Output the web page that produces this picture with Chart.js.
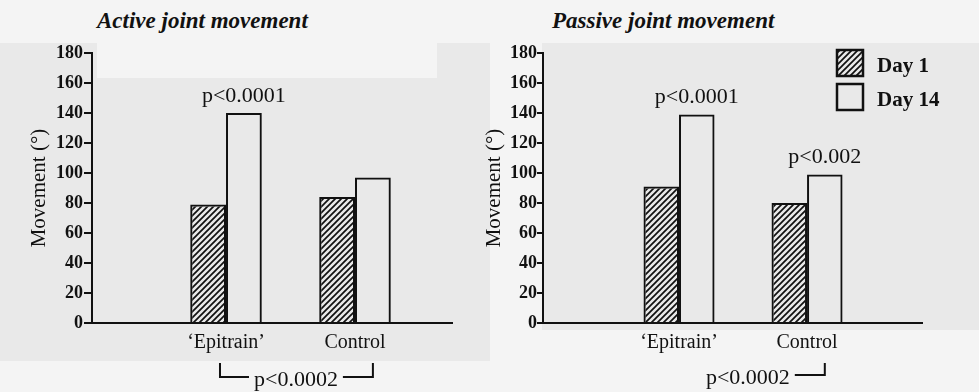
<!DOCTYPE html>
<html>
<head>
<meta charset="utf-8">
<script src="https://cdn.jsdelivr.net/npm/chart.js@4.4.1/dist/chart.umd.min.js"></script>
<style>
  html, body { margin: 0; padding: 0; background: #f4f4f4; }
  #page { position: relative; width: 979px; height: 392px; overflow: hidden;
          font-family: 'Liberation Serif', 'Times New Roman', serif; }
  .shade { position: absolute; background: #e9e9e9; }
  .title { position: absolute; font-weight: bold; font-style: italic; font-size: 23px;
           line-height: 23px; color: #111; white-space: nowrap; }
  canvas { position: absolute; top: 0; }
</style>
</head>
<body>
<div id="page">
  <div class="shade" style="left:0;top:43px;width:490px;height:318px"></div>
  <div class="shade" style="left:97px;top:43px;width:340px;height:35px;background:#f4f4f4"></div>
  <div class="shade" style="left:542px;top:43px;width:437px;height:287px"></div>
  <div class="title" style="left:97px;top:9px">Active joint movement</div>
  <div class="title" style="left:552px;top:9px">Passive joint movement</div>
  <canvas id="active" width="490" height="392" style="left:0"></canvas>
  <canvas id="passive" width="509" height="392" style="left:470px"></canvas>
</div>
<script>
// chart data
const categories = ['\u2018Epitrain\u2019', 'Control'];
const seriesNames = ['Day 1', 'Day 14'];
const yMin = 0, yMax = 180, yStep = 20;
const yTitle = 'Movement (\u00b0)';

const activeDay1 = [79, 84];
const activeDay14 = [140, 97];
const passiveDay1 = [91, 80];
const passiveDay14 = [139, 99];

// p values written above the Day 14 bars, and the between-group one
const activeBarP = ['p<0.0001', null];
const passiveBarP = ['p<0.0001', 'p<0.002'];
const groupP = 'p<0.0002';

const serif = "'Liberation Serif', 'Times New Roman', serif";
Chart.defaults.font.family = serif;
Chart.defaults.color = '#111';

// diagonal hatch for the Day 1 bars
function hatch(ctx) {
  const tile = document.createElement('canvas');
  tile.width = 6; tile.height = 6;
  const g = tile.getContext('2d');
  g.strokeStyle = '#111';
  g.lineWidth = 1.7;
  g.beginPath();
  g.moveTo(0, 6); g.lineTo(6, 0);
  g.moveTo(-1, 1); g.lineTo(1, -1);
  g.moveTo(5, 7); g.lineTo(7, 5);
  g.stroke();
  return ctx.createPattern(tile, 'repeat');
}

// p value texts and the bracket under the groups
const pLabels = {
  id: 'pLabels',
  afterDatasetsDraw(chart, args, o) {
    const ctx = chart.ctx;
    const meta = chart.getDatasetMeta(1);
    ctx.save();
    ctx.fillStyle = '#111';
    ctx.strokeStyle = '#111';
    ctx.lineWidth = 2;
    ctx.font = '22px ' + serif;
    ctx.textAlign = 'center';
    ctx.textBaseline = 'middle';
    o.barP.forEach((t, i) => {
      if (!t) return;
      const bar = meta.data[i];
      ctx.fillText(t, bar.x, bar.y - 17);
    });

    const rightX = meta.data[1].x;
    const lineY = chart.scales.y.getPixelForValue(0) + o.drop;
    const w = ctx.measureText(groupP).width;
    const textRight = rightX - 35;
    ctx.textAlign = 'right';
    ctx.fillText(groupP, textRight, lineY + 3);
    ctx.beginPath();
    ctx.moveTo(rightX - 30, lineY); ctx.lineTo(rightX, lineY); ctx.lineTo(rightX, lineY - o.arm);
    if (o.leftArm) {
      const lx = textRight - w - 34;
      ctx.moveTo(textRight - w - 5, lineY); ctx.lineTo(lx, lineY); ctx.lineTo(lx, lineY - o.arm);
    }
    ctx.stroke();
    ctx.restore();
  }
};

// small boxed legend inside the plot
const boxLegend = {
  id: 'boxLegend',
  afterDraw(chart, args, o) {
    if (!o.display) return;
    const ctx = chart.ctx;
    ctx.save();
    chart.data.datasets.forEach((ds, i) => {
      const y = o.top + i * o.row;
      ctx.fillStyle = ds.backgroundColor;
      ctx.fillRect(o.left, y, o.box, o.box);
      ctx.strokeStyle = '#111';
      ctx.lineWidth = 2.5;
      ctx.strokeRect(o.left, y, o.box, o.box);
      ctx.fillStyle = '#111';
      ctx.font = 'bold 21px ' + serif;
      ctx.textBaseline = 'middle';
      ctx.fillText(ds.label, o.left + o.box + 14, y + o.box / 2 + 4);
    });
    ctx.restore();
  }
};

function makeChart(id, day1, day14, barP, cfg) {
  const ctx = document.getElementById(id).getContext('2d');
  return new Chart(ctx, {
    type: 'bar',
    data: {
      labels: categories.map((c, i) => i + 1),
      datasets: [
        { label: seriesNames[0], data: day1, backgroundColor: hatch(ctx),
          borderColor: '#111', borderWidth: 2 },
        { label: seriesNames[1], data: day14, backgroundColor: 'rgba(0,0,0,0)',
          borderColor: '#111', borderWidth: 2 }
      ]
    },
    options: {
      responsive: false,
      animation: false,
      devicePixelRatio: 1,
      datasets: { bar: { categoryPercentage: 0.555, barPercentage: 1 } },
      layout: { padding: { left: 0, right: cfg.padRight, top: 53, bottom: 29 } },
      plugins: {
        legend: { display: false },
        tooltip: { enabled: false },
        pLabels: { barP: barP, drop: cfg.drop, arm: cfg.arm, leftArm: cfg.leftArm },
        boxLegend: cfg.legend || { display: false }
      },
      scales: {
        x: {
          type: 'linear',
          min: cfg.xMin, max: cfg.xMax,
          offset: false,
          grid: { display: false, drawTicks: false, offset: false },
          border: { display: true, color: '#111', width: 2 },
          afterBuildTicks: s => { s.ticks = categories.map((c, i) => ({ value: i + 1 })); },
          afterFit: s => { s.height = 40; },
          ticks: {
            autoSkip: false, maxRotation: 0, padding: 8,
            font: { size: 20 }, color: '#111',
            callback: v => categories[v - 1]
          }
        },
        y: {
          min: yMin, max: yMax,
          ticks: { stepSize: yStep, font: { size: 18, weight: 'bold' }, color: '#111', padding: cfg.tickPad },
          grid: { drawOnChartArea: false, drawTicks: true, tickLength: cfg.tickLen,
                  color: '#111', lineWidth: 2 },
          border: { display: true, color: '#111', width: 2 },
          title: { display: true, text: yTitle, font: { size: 21 }, color: '#111',
                   padding: { top: cfg.titlePad, bottom: 0 } },
          afterFit: s => { s.width = cfg.axisWidth; }
        }
      }
    },
    plugins: [pLabels, boxLegend]
  });
}

makeChart('active', activeDay1, activeDay14, activeBarP, {
  axisWidth: 92, padRight: 38, xMin: -0.039, xMax: 2.752,
  titlePad: 27, tickLen: 8, tickPad: 1, drop: 54, arm: 14, leftArm: true
});

makeChart('passive', passiveDay1, passiveDay14, passiveBarP, {
  axisWidth: 73, padRight: 57, xMin: -0.0625, xMax: 2.898,
  titlePad: 12, tickLen: 6, tickPad: 0, drop: 52, arm: 12, leftArm: false,
  legend: { display: true, left: 367, top: 50, box: 26, row: 34 }
});
</script>
</body>
</html>
